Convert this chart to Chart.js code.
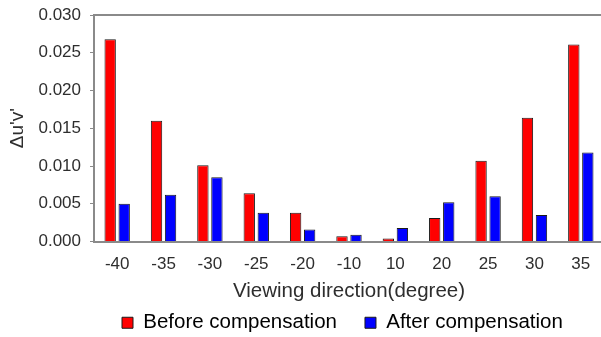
<!DOCTYPE html>
<html>
<head>
<meta charset="utf-8">
<script src="https://cdn.jsdelivr.net/npm/chart.js@4/dist/chart.umd.min.js"></script>
<style>
  html, body { margin: 0; padding: 0; background: #fff; overflow: hidden; }
  #wrap { width: 604px; height: 337px; }
</style>
</head>
<body>
<div id="wrap"><canvas id="c"></canvas></div>
<script>
// Viewing angles (degrees)
const angles = ['-40', '-35', '-30', '-25', '-20', '-10', '10', '20', '25', '30', '35'];
// Colour shift Δu'v' before and after compensation
const beforeComp = [0.0268, 0.0160, 0.0101, 0.0064, 0.0038, 0.0007, 0.0004, 0.0031, 0.0107, 0.0164, 0.0261];
const afterComp  = [0.0050, 0.0062, 0.0085, 0.0038, 0.0016, 0.0009, 0.0018, 0.0052, 0.0060, 0.0035, 0.0118];
const yTicks = [0, 0.005, 0.010, 0.015, 0.020, 0.025, 0.030];

const FONT = '"Liberation Sans", Arial, sans-serif';
const TEXT = '#2e2e2e';
const AXIS = '#8a8a8a';

Chart.defaults.font.family = FONT;
Chart.defaults.color = TEXT;

// Top frame line of the plot area
const topFrame = {
  id: 'topFrame',
  afterDraw(chart) {
    const { ctx, chartArea: a } = chart;
    ctx.save();
    ctx.strokeStyle = AXIS;
    ctx.lineWidth = 2;
    ctx.beginPath();
    ctx.moveTo(a.left - 1, a.top);
    ctx.lineTo(a.right, a.top);
    ctx.stroke();
    ctx.restore();
  }
};

new Chart(document.getElementById('c'), {
  type: 'bar',
  data: {
    labels: angles,
    datasets: [
      { label: 'Before compensation', data: beforeComp, backgroundColor: '#ff0000', borderColor: '#1a1a1a', borderWidth: 1 },
      { label: 'After compensation', data: afterComp, backgroundColor: '#0000ff', borderColor: '#1a1a1a', borderWidth: 1 }
    ]
  },
  options: {
    responsive: true,
    maintainAspectRatio: false,
    animation: false,
    layout: { padding: { top: 15, left: 0, right: 0, bottom: -6 } },
    datasets: { bar: { categoryPercentage: 0.605, barPercentage: 0.81 } },
    plugins: {
      legend: {
        position: 'bottom',
        fullSize: false,
        align: 'start',
        labels: {
          boxWidth: 11, boxHeight: 11, padding: 28,
          font: { size: 20.5 }, color: TEXT,
          generateLabels(chart) {
            return chart.data.datasets.map((d, i) => ({
              text: d.label, fillStyle: d.backgroundColor, strokeStyle: '#1a1a1a',
              lineWidth: 1, datasetIndex: i, hidden: false
            }));
          }
        }
      },
      tooltip: { enabled: false }
    },
    scales: {
      x: {
        afterFit(scale) { scale.height = 43; scale.paddingLeft = 0; scale.paddingRight = 0; },
        grid: { display: false, drawTicks: false },
        border: { color: AXIS, width: 2 },
        ticks: { font: { size: 17 }, color: TEXT, padding: 13 },
        title: { display: true, text: 'Viewing direction(degree)', font: { size: 20.5 }, color: TEXT, padding: { top: 0, bottom: -19.5 } }
      },
      y: {
        min: 0, max: 0.03,
        afterFit(scale) { scale.width = 94; scale.paddingTop = 0; scale.paddingBottom = 0; },
        afterBuildTicks(scale) { scale.ticks = yTicks.map(v => ({ value: v })); },
        grid: { drawOnChartArea: false, drawTicks: true, tickLength: 4, color: AXIS, lineWidth: 1 },
        border: { color: AXIS, width: 2 },
        ticks: { font: { size: 17 }, color: TEXT, padding: 9, callback: v => Number(v).toFixed(3) },
        title: { display: true, text: "Δu'v'", font: { size: 19 }, color: TEXT, padding: { top: 6, bottom: 0 } }
      }
    }
  },
  plugins: [topFrame]
});
</script>
</body>
</html>
